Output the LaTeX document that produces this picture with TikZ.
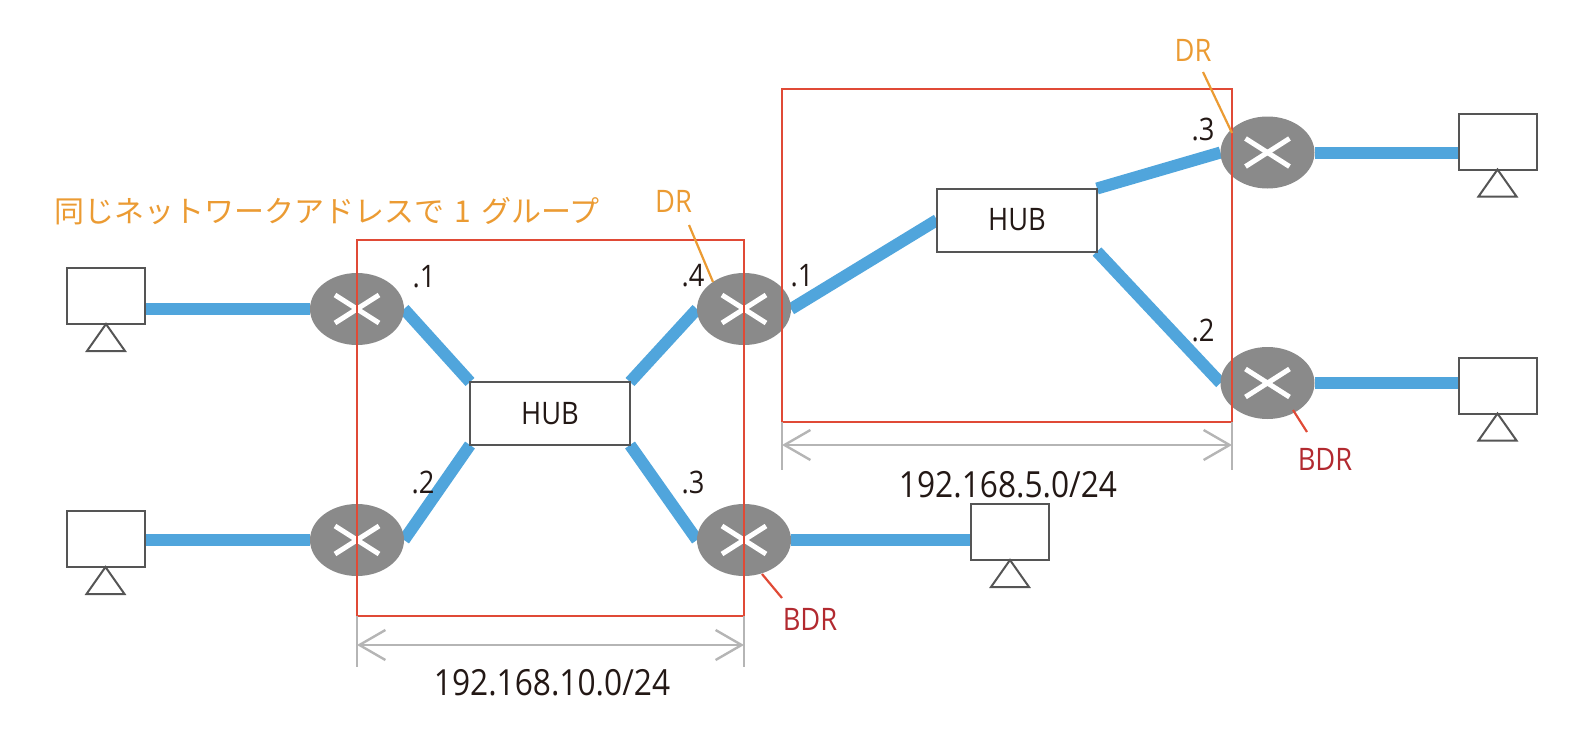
\documentclass[tikz,border=0pt]{standalone}
\usepackage{fontspec}
\setmainfont[FakeStretch=0.88]{Open Sans}
\newfontfamily\jpfont{Noto Sans CJK JP}
\usetikzlibrary{arrows.meta,backgrounds,shapes.geometric}
\definecolor{linkblue}{HTML}{50A5DC}
\definecolor{routergray}{HTML}{8A8A8A}
\definecolor{boxred}{HTML}{E04A36}
\definecolor{bdrred}{HTML}{B22A30}
\definecolor{drorange}{HTML}{EB9B33}
\definecolor{dimgray}{HTML}{B5B5B5}
\definecolor{edgegray}{HTML}{555555}
\definecolor{ink}{HTML}{231815}
\tikzset{
  router/.style={ellipse,fill=routergray,minimum width=94pt,minimum height=72pt,inner sep=0pt,outer sep=0pt},
  crossmark/.style={draw=white,line width=5pt},
  hubbox/.style={rectangle,draw=edgegray,line width=2pt,fill=white,minimum width=160pt,minimum height=63pt,inner sep=0pt,outer sep=0pt,font=\fontsize{31}{36}\selectfont,text=ink},
  pcbox/.style={rectangle,draw=edgegray,line width=2pt,fill=white,minimum width=78pt,minimum height=56pt,inner sep=0pt,outer sep=0pt},
  pcbase/.style={draw=edgegray,line width=2pt,fill=white},
  link/.style={draw=linkblue,line width=12pt},
  redarea/.style={draw=boxred,line width=2.6pt},
  dimline/.style={draw=dimgray,line width=2.4pt},
  dimarrow/.style={draw=dimgray,line width=2.4pt,{Straight Barb[length=26pt,width=30pt,line width=2.4pt]}-{Straight Barb[length=26pt,width=30pt,line width=2.4pt]}},
  addr/.style={font=\fontsize{31}{36}\selectfont,text=ink,inner sep=0pt},
  netlabel/.style={font=\fontsize{36}{42}\selectfont,text=ink,inner sep=0pt},
  drlabel/.style={font=\fontsize{31}{36}\selectfont,text=drorange,inner sep=0pt},
  bdrlabel/.style={font=\fontsize{31}{36}\selectfont,text=bdrred,inner sep=0pt},
  drline/.style={draw=drorange,line width=2.2pt},
  bdrline/.style={draw=boxred,line width=2.2pt},
}
\begin{document}
\begin{tikzpicture}[x=1pt,y=-1pt]
\useasboundingbox (0,0) rectangle (1588,736);
% routers
\foreach \n/\x/\y in {r1/357/309,r2/357/540,r3/744/309,r4/744/540,r5/1267.5/152.5,r6/1267.5/383}{
  \node[router] (\n) at (\x,\y) {};
  \draw[crossmark] (\x-22,\y-14) -- (\x+22,\y+14);
  \draw[crossmark] (\x-22,\y+14) -- (\x+22,\y-14);
}
% hubs
\node[hubbox] (h1) at (550,413.5) {HUB};
\node[hubbox] (h2) at (1017,220) {HUB};
% hosts
\foreach \n/\x/\y in {p1/106/296,p2/105.5/539,p3/1010/532,p4/1497.5/141.5,p5/1497.5/385.5}{
  \node[pcbox] (\n) at (\x,\y) {};
  \draw[pcbase] (\n.south) -- ++(-19,27) -- ++(38,0) -- cycle;
}
% links
\begin{scope}[on background layer]
  \draw[link] (r1.west -| p1.east) -- (r1.west);
  \draw[link] (r2.west -| p2.east) -- (r2.west);
  \draw[link] (r4.east) -- (r4.east -| p3.west);
  \draw[link] (r5.east) -- (r5.east -| p4.west);
  \draw[link] (r6.east) -- (r6.east -| p5.west);
  \draw[link] (r1.east) -- (h1.north west);
  \draw[link] (r2.east) -- (h1.south west);
  \draw[link] (h1.north east) -- (r3.west);
  \draw[link] (h1.south east) -- (r4.west);
  \draw[link] (r3.east) -- (h2.west);
  \draw[link] (h2.north east) -- (r5.west);
  \draw[link] (h2.south east) -- (r6.west);
\end{scope}
% red areas
\node[rectangle,redarea,minimum width=387pt,minimum height=376pt,inner sep=0pt,outer sep=0pt] (a1) at (550.5,428) {};
\node[rectangle,redarea,minimum width=450pt,minimum height=333pt,inner sep=0pt,outer sep=0pt] (a2) at (1007,255.5) {};
% dimension lines
\coordinate (d1l) at (357,667);
\coordinate (d1r) at (744,667);
\coordinate (d2l) at (782,470);
\coordinate (d2r) at (1232,470);
\coordinate (d1la) at (357,645);
\coordinate (d1ra) at (744,645);
\coordinate (d2la) at (782,445);
\coordinate (d2ra) at (1232,445);
\draw[dimline] (a1.south west) -- (d1l);
\draw[dimline] (a1.south east) -- (d1r);
\draw[dimline] (a2.south west) -- (d2l);
\draw[dimline] (a2.south east) -- (d2r);
\draw[dimarrow] (d1la) -- (d1ra);
\draw[dimarrow] (d2la) -- (d2ra);
% address labels
\node[addr] (t1) at (424,277) {.1};
\node[addr] (t2) at (423,482) {.2};
\node[addr] (t3) at (693,276) {.4};
\node[addr] (t4) at (693,482) {.3};
\node[addr] (t5) at (802,276) {.1};
\node[addr] (t6) at (1203,129) {.3};
\node[addr] (t7) at (1203,330) {.2};
\node[netlabel] (n1) at (552,683) {192.168.10.0/24};
\node[netlabel] (n2) at (1008,485) {192.168.5.0/24};
% role labels
\node[drlabel] (dr1) at (673.5,201.5) {DR};
\node[drlabel] (dr2) at (1193,50) {DR};
\node[bdrlabel] (bdr1) at (810,619) {BDR};
\node[bdrlabel] (bdr2) at (1325,459) {BDR};
\coordinate (dr1a) at (689,225);
\coordinate (dr1b) at (713,282);
\coordinate (dr2a) at (1203,72);
\coordinate (dr2b) at (1232,133);
\coordinate (bdr1a) at (762,574);
\coordinate (bdr1b) at (782,598);
\coordinate (bdr2a) at (1293,410);
\coordinate (bdr2b) at (1307,432);
\draw[drline] (dr1a) -- (dr1b);
\draw[drline] (dr2a) -- (dr2b);
\draw[bdrline] (bdr1a) -- (bdr1b);
\draw[bdrline] (bdr2a) -- (bdr2b);
\node[font={\jpfont\fontsize{30}{36}\selectfont},text=drorange,inner sep=0pt] (cap) at (327,211) {同じネットワークアドレスで\hspace{10pt}1\hspace{10pt}グループ};
\end{tikzpicture}
\end{document}
